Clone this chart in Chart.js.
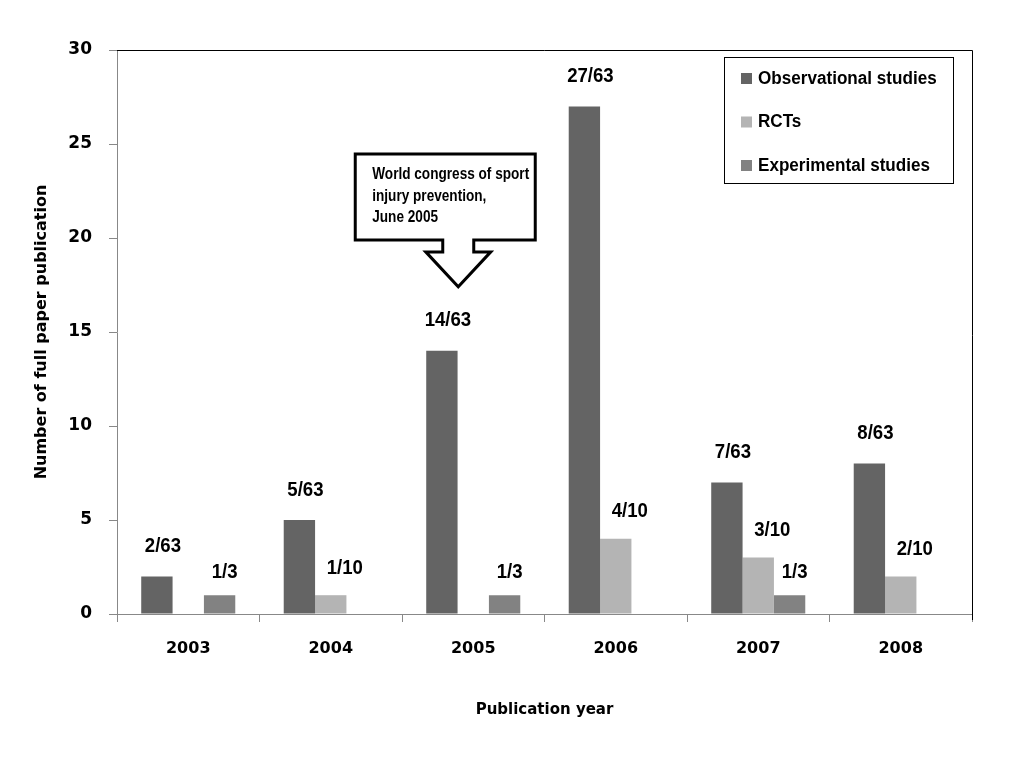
<!DOCTYPE html>
<html>
<head>
<meta charset="utf-8">
<title>Full paper publications per year</title>
<script src="https://cdn.jsdelivr.net/npm/chart.js@4.4.1/dist/chart.umd.min.js"></script>
<style>
  html, body { margin: 0; padding: 0; background: #fff; }
  canvas { display: block; }
</style>
</head>
<body>
<canvas id="pub-chart" width="1018" height="758"></canvas>
<script>
/* =====================================
   DATA
======================================== */

const years = ["2003", "2004", "2005", "2006", "2007", "2008"];

const observational = [2, 5, 14, 27, 7, 8];
const rcts = [null, 1, null, 4, 3, 2];
const experimental = [1, null, 1, null, 1, null];

const observationalLabels = ["2/63", "5/63", "14/63", "27/63", "7/63", "8/63"];
const rctLabels = ["", "1/10", "", "4/10", "3/10", "2/10"];
const experimentalLabels = ["1/3", "", "1/3", "", "1/3", ""];

const yTicks = [0, 5, 10, 15, 20, 25, 30];

const calloutText = ["World congress of sport", "injury prevention,", "June 2005"];

/* =====================================
   PLUGINS
======================================== */

// no narrow face installed, so squeeze Liberation Sans bold by hand
function condensedText(ctx, text, x, y, size, squeeze) {
    ctx.save();
    ctx.font = "bold " + size + "px 'Liberation Sans', Arial, sans-serif";
    ctx.translate(x, y);
    ctx.scale(squeeze, 1);
    ctx.fillText(text, 0, 0);
    ctx.restore();
}

// fraction labels above the bars
const fractionLabels = {
    id: "fractionLabels",
    afterDatasetsDraw(chart) {
        const ctx = chart.ctx;
        ctx.save();
        ctx.fillStyle = "#000";
        ctx.textAlign = "center";
        ctx.textBaseline = "middle";
        chart.data.datasets.forEach((ds, i) => {
            const meta = chart.getDatasetMeta(i);
            meta.data.forEach((bar, j) => {
                const text = ds.fractions[j];
                if (!text) return;
                condensedText(ctx, text, bar.x + ds.labelDx, bar.y - ds.labelDy, 20, 0.93);
            });
        });
        ctx.restore();
    }
};

// top / right frame, legend box and the callout arrow
const frameAndLegend = {
    id: "frameAndLegend",
    afterDraw(chart) {
        const ctx = chart.ctx;
        const area = chart.chartArea;
        ctx.save();

        // frame
        ctx.strokeStyle = "#000";
        ctx.lineWidth = 1;
        ctx.beginPath();
        ctx.moveTo(area.left, area.top + 0.5);
        ctx.lineTo(area.right + 0.5, area.top + 0.5);
        ctx.lineTo(area.right + 0.5, area.bottom + 6);
        ctx.stroke();

        // legend
        const lx = area.right - 248, ly = area.top + 7, lw = 229, lh = 126;
        ctx.fillStyle = "#fff";
        ctx.fillRect(lx, ly, lw, lh);
        ctx.strokeRect(lx + 0.5, ly + 0.5, lw, lh);
        ctx.textBaseline = "middle";
        ctx.textAlign = "left";
        chart.data.datasets.forEach((ds, i) => {
            const cy = ly + 21 + i * 43.5;
            ctx.fillStyle = ds.backgroundColor;
            ctx.fillRect(lx + 17, cy - 5, 11, 11);
            ctx.fillStyle = "#000";
            condensedText(ctx, ds.label, lx + 34, cy + 1, 18, 0.95);
        });

        // callout pointing at 2005
        const tx = chart.scales.x.getPixelForValue(2) - 15;
        const ty = chart.scales.y.getPixelForValue(17.4);
        const boxL = tx - 103, boxR = tx + 77, boxT = ty - 133, boxB = ty - 47;
        const stem = 15.5, head = 32.5, headY = ty - 35;
        ctx.beginPath();
        ctx.moveTo(boxL, boxT);
        ctx.lineTo(boxR, boxT);
        ctx.lineTo(boxR, boxB);
        ctx.lineTo(tx + stem, boxB);
        ctx.lineTo(tx + stem, headY);
        ctx.lineTo(tx + head, headY);
        ctx.lineTo(tx, ty);
        ctx.lineTo(tx - head, headY);
        ctx.lineTo(tx - stem, headY);
        ctx.lineTo(tx - stem, boxB);
        ctx.lineTo(boxL, boxB);
        ctx.closePath();
        ctx.fillStyle = "#fff";
        ctx.fill();
        ctx.lineWidth = 3;
        ctx.lineJoin = "miter";
        ctx.strokeStyle = "#000";
        ctx.stroke();

        ctx.fillStyle = "#000";
        calloutText.forEach((line, k) => {
            condensedText(ctx, line, boxL + 17, boxT + 21 + k * 21.5, 16, 0.85);
        });

        ctx.restore();
    }
};

/* =====================================
   CHART
======================================== */

const sansBold = "'DejaVu Sans', Verdana, sans-serif";

const pubCanvas = document.getElementById("pub-chart");

const pubData = {
    labels: years,
    datasets: [
        {
            label: "Observational studies",
            data: observational,
            fractions: observationalLabels,
            backgroundColor: "#646464",
            labelDx: 6,
            labelDy: 30
        },
        {
            label: "RCTs",
            data: rcts,
            fractions: rctLabels,
            backgroundColor: "#b4b4b4",
            labelDx: 14,
            labelDy: 27
        },
        {
            label: "Experimental studies",
            data: experimental,
            fractions: experimentalLabels,
            backgroundColor: "#828282",
            labelDx: 5,
            labelDy: 23
        }
    ]
};

const pubOptions = {
    responsive: false,
    animation: false,
    categoryPercentage: 0.66,
    barPercentage: 1,
    layout: {
        padding: { left: 0, top: 50, right: 46, bottom: 0 }
    },
    scales: {
        x: {
            border: { color: "#888", width: 1 },
            grid: {
                offset: true,
                drawOnChartArea: false,
                color: "#888",
                tickLength: 8
            },
            ticks: {
                color: "#000",
                font: { family: sansBold, size: 16, weight: "bold" },
                padding: 17,
                maxRotation: 0
            },
            title: {
                display: true,
                text: "Publication year",
                color: "#000",
                font: { family: sansBold, size: 15, weight: "bold" },
                padding: { top: 0, bottom: 39 }
            },
            afterFit(scale) {
                scale.height = 144;
            }
        },
        y: {
            min: 0,
            max: 30,
            border: { color: "#888", width: 1 },
            grid: {
                drawOnChartArea: false,
                color: "#888",
                tickLength: 8
            },
            afterBuildTicks(scale) {
                scale.ticks = yTicks.map(v => ({ value: v }));
            },
            ticks: {
                color: "#000",
                font: { family: sansBold, size: 17, weight: "bold" },
                padding: 17
            },
            title: {
                display: true,
                text: "Number of full paper publication",
                color: "#000",
                font: { family: sansBold, size: 16, weight: "bold" },
                padding: { top: 32, bottom: 0 }
            },
            afterFit(scale) {
                scale.width = 117;
            }
        }
    },
    plugins: {
        legend: { display: false },
        tooltip: { enabled: false }
    }
};

let pubChart = new Chart(pubCanvas, {
    type: "bar",
    data: pubData,
    options: pubOptions,
    plugins: [fractionLabels, frameAndLegend]
});
</script>
</body>
</html>
